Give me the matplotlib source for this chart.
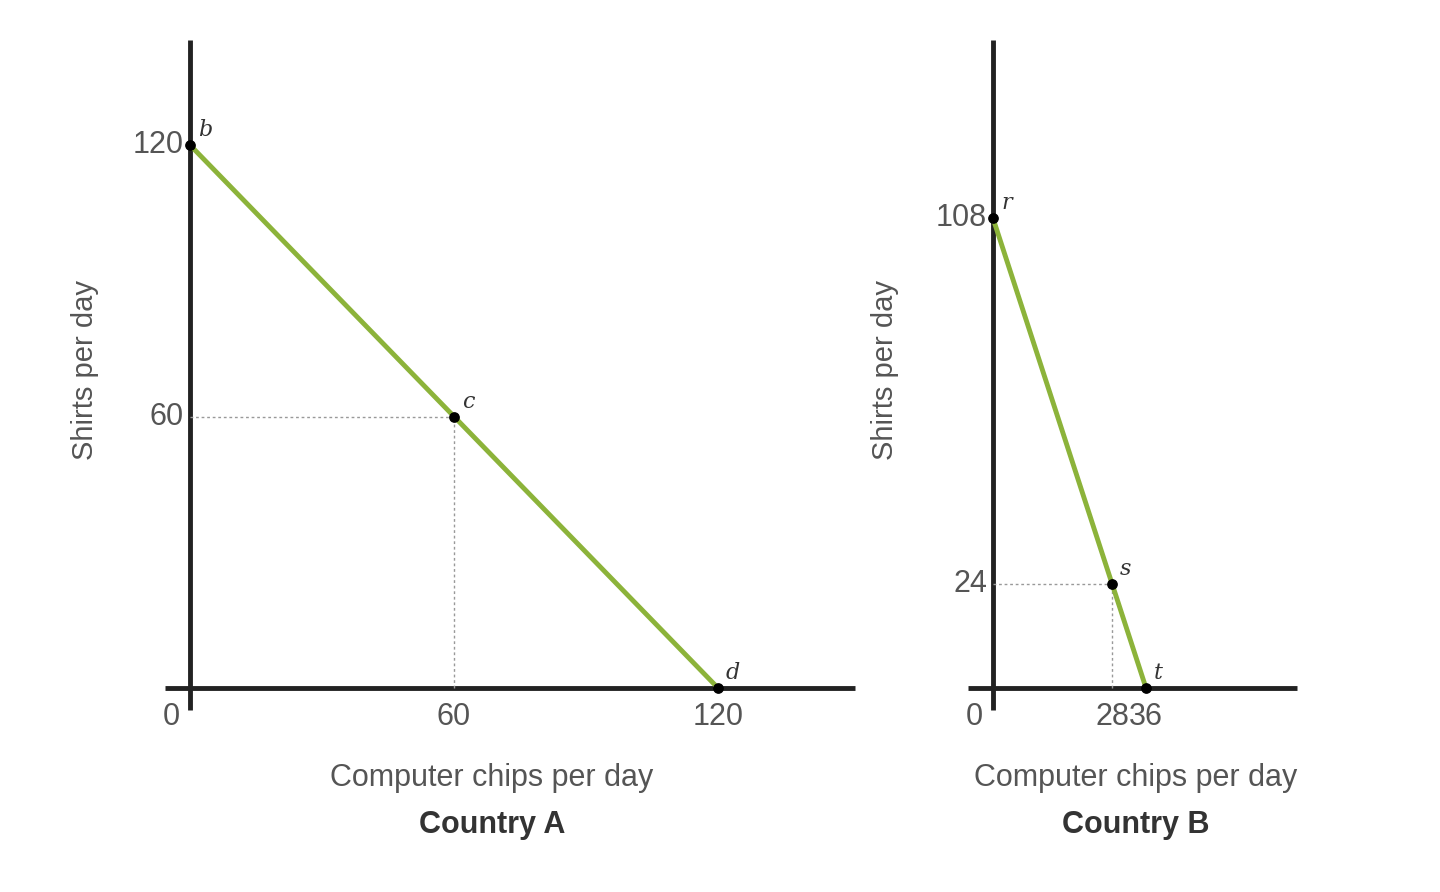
import matplotlib
matplotlib.use("Agg")
import matplotlib.pyplot as plt

plt.rcParams['font.family'] = ['Liberation Sans', 'DejaVu Sans']

# Country A
a_x = [0, 60, 120]
a_y = [120, 60, 0]
a_lbl = ["b", "c", "d"]
# Country B
b_x = [0, 28, 36]
b_y = [108, 24, 0]
b_lbl = ["r", "s", "t"]

W, H = 1440, 892
fig = plt.figure(figsize=(14.4, 8.92), dpi=100)
green = "#8cb33a"
gray = "#555555"

def panel(px0, px1, xa, sx, sy, xs, ys, lbls, xticks, yticks, title, ylab_px, title_px):
    ax = fig.add_axes([px0 / W, (H - 710) / H, (px1 - px0) / W, 670 / H])
    xmin = (px0 - xa) / sx
    xmax = (px1 - xa) / sx
    ymin = -(710 - 688) / sy
    ymax = (688 - 40) / sy
    ax.set_xlim(xmin, xmax)
    ax.set_ylim(ymin, ymax)
    ax.axis("off")
    ax.plot([xmin, xmax], [0, 0], color="#222222", lw=3.5, solid_capstyle="butt", clip_on=False)
    ax.plot([0, 0], [ymin, ymax], color="#222222", lw=3.5, solid_capstyle="butt", clip_on=False)
    ax.plot(xs, ys, color=green, lw=3.5, zorder=3)
    ax.plot([0, xs[1]], [ys[1], ys[1]], color="#999999", lw=1, ls=(0, (2, 2)), zorder=2)
    ax.plot([xs[1], xs[1]], [0, ys[1]], color="#999999", lw=1, ls=(0, (2, 2)), zorder=2)
    ax.scatter(xs, ys, color="black", s=45, zorder=4, clip_on=False)
    for x, y, l in zip(xs, ys, lbls):
        ax.text(x + 8 / sx, y + 4 / sy, l, family="DejaVu Serif", style="italic",
                fontsize=16, color="#333333", ha="left", va="bottom")
    for t in yticks:
        ax.text(-6 / sx, t, str(t), ha="right", va="center", fontsize=22, color=gray)
    for t in xticks:
        ax.text(t, -14 / sy, str(t), ha="center", va="top", fontsize=22, color=gray)
    ax.text(-10 / sx, -14 / sy, "0", ha="right", va="top", fontsize=22, color=gray)
    ax.text((ylab_px - xa) / sx, (688 - 370) / sy, "Shirts per day", rotation=90,
            ha="center", va="center", fontsize=21, color=gray)
    fig.text(title_px / W, 1 - 778 / H, "Computer chips per day",
             ha="center", va="center", fontsize=22, color=gray)
    fig.text(title_px / W, 1 - 825 / H, title,
             ha="center", va="center", fontsize=22, color="#333333", weight="bold")

panel(165, 855, 190, 4.4, 4.525, a_x, a_y, a_lbl, [60, 120], [120, 60], "Country A", 85, 492)
panel(968, 1297, 993, 4.25, 4.35, b_x, b_y, b_lbl, [28, 36], [108, 24], "Country B", 885, 1136)

fig.savefig("out.png", dpi=100)
